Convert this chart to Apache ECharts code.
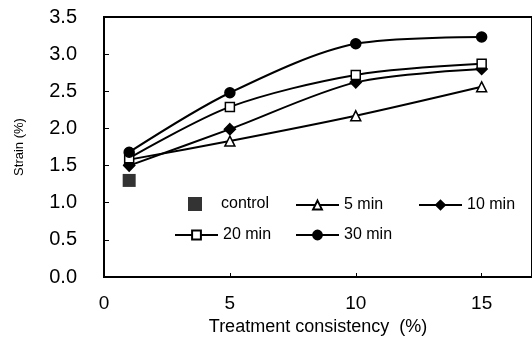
<!DOCTYPE html>
<html>
<head>
<meta charset="utf-8">
<script src="https://cdn.jsdelivr.net/npm/echarts@6/dist/echarts.min.js"></script>
<style>
html,body{margin:0;padding:0;background:#fff;}
#c{width:532px;height:344px;}
</style>
</head>
<body>
<div id="c"></div>
<script>
var xVals = [1, 5, 10, 15];
var min5 = [1.58, 1.83, 2.17, 2.56];
var min10 = [1.50, 1.99, 2.62, 2.80];
var min20 = [1.60, 2.29, 2.72, 2.87];
var min30 = [1.68, 2.48, 3.14, 3.23];
var controlX = [1];
var controlY = [1.30];
var xTicks = [0, 5, 10, 15];
var yTicks = [0, 0.5, 1, 1.5, 2, 2.5, 3, 3.5];

function pairs(xs, ys) { return xs.map(function (x, i) { return [x, ys[i]]; }); }

var FONT = 'Liberation Sans';
var chart = echarts.init(document.getElementById('c'), null, {renderer: 'canvas'});

function lineSeries(name, data, symbol, fill, size) {
  return {
    name: name, type: 'line', data: pairs(xVals, data), smooth: 0.3,
    symbol: symbol, symbolSize: size, showAllSymbol: true,
    lineStyle: {color: '#000', width: 2},
    itemStyle: {color: fill, borderColor: '#000', borderWidth: 1.5},
    z: 3
  };
}

function lg(name, left, top, w, h, extra) {
  var o = {
    data: [name], left: left, top: top, itemWidth: w, itemHeight: h,
    itemGap: 5, padding: 0, selectedMode: false,
    textStyle: {fontFamily: FONT, fontSize: 16, color: '#000'}
  };
  if (extra) for (var k in extra) o[k] = extra[k];
  return o;
}

chart.setOption({
  animation: false,
  backgroundColor: '#fff',
  grid: {left: 104, top: 17, right: -5, bottom: 67, show: true, borderColor: '#000', borderWidth: 2},
  xAxis: {
    type: 'value', min: 0, max: 17, interval: 5,
    axisLine: {show: true, lineStyle: {color: '#000', width: 2}},
    axisTick: {show: true, inside: true, length: 4, lineStyle: {color: '#000'}},
    splitLine: {show: false},
    axisLabel: {
      fontFamily: FONT, fontSize: 19, color: '#000', margin: 17,
      showMaxLabel: false,
      formatter: function (v) { return xTicks.indexOf(v) >= 0 ? String(v) : ''; }
    },
    name: 'Treatment consistency  (%)', nameLocation: 'middle', nameGap: 37,
    nameTextStyle: {fontFamily: FONT, fontSize: 18, color: '#000'}
  },
  yAxis: {
    type: 'value', min: 0, max: 3.5, interval: 0.5,
    axisLine: {show: true, lineStyle: {color: '#000', width: 2}},
    axisTick: {show: true, inside: true, length: 5, lineStyle: {color: '#000'}},
    splitLine: {show: false},
    axisLabel: {
      fontFamily: FONT, fontSize: 20, color: '#000', margin: 27, padding: [6, 0, 0, 0],
      formatter: function (v) { return yTicks.indexOf(v) >= 0 ? v.toFixed(1) : ''; }
    },
    name: 'Strain (%)', nameLocation: 'middle', nameGap: 78, nameRotate: 90,
    nameTextStyle: {fontFamily: FONT, fontSize: 13, color: '#000'}
  },
  legend: [
    lg('control', 188, 196, 14, 14, {textStyle: {fontFamily: FONT, fontSize: 16, color: '#000', padding: [0, 0, 0, 14]}}),
    lg('5 min', 295, 197, 43, 11),
    lg('10 min', 418, 197, 43, 11),
    lg('20 min', 174, 227, 43, 11),
    lg('30 min', 295, 227, 43, 11)
  ],
  series: [
    {
      name: 'control', type: 'scatter', data: pairs(controlX, controlY),
      symbol: 'rect', symbolSize: 13, itemStyle: {color: '#000'}, z: 4
    },
    lineSeries('5 min', min5, 'triangle', '#fff', 10),
    lineSeries('10 min', min10, 'diamond', '#000', 11),
    lineSeries('20 min', min20, 'rect', '#fff', 9),
    lineSeries('30 min', min30, 'circle', '#000', 10)
  ]
});
</script>
</body>
</html>
